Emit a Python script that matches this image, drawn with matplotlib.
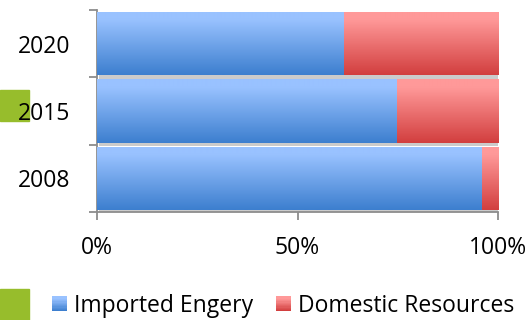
import matplotlib
matplotlib.use("Agg")
import matplotlib.pyplot as plt
import matplotlib.patheffects as pe
import numpy as np
from matplotlib.colors import LinearSegmentedColormap
from matplotlib.legend_handler import HandlerBase
from matplotlib.patches import Rectangle

years = ["2008", "2015", "2020"]
imported = [96.0, 74.8, 61.5]
domestic = [4.0, 25.2, 38.5]
series_names = ["Imported Engery", "Domestic Resources"]
x_ticks = [0, 50, 100]
x_labels = ["0%", "50%", "100%"]

# top colour -> bottom colour of each gradient
blue = ("#99c2ff", "#3d7fcf")
red = ("#ff9999", "#d23f3f")

plt.rcParams["font.family"] = ["Open Sans", "DejaVu Sans"]
FS = 16.5

fig = plt.figure(figsize=(5.26, 3.2), dpi=100)
ax = fig.add_axes([97 / 526, 1 - 212 / 320, 401 / 526, 202 / 320])

# slide decoration squares
for y0 in (90, 289):
    fig.add_artist(Rectangle((0, 1 - (y0 + 31) / 320), 29 / 526, 31 / 320,
                             transform=fig.transFigure, color="#97bd2c",
                             zorder=-1))


def make_cmap(colors):
    return LinearSegmentedColormap.from_list(
        "g", [(0, colors[0]), (0.12, colors[0]), (1, colors[1])])


def gradient(ax, bars, colors):
    cmap = make_cmap(colors)
    grad = np.linspace(0, 1, 64).reshape(-1, 1)
    for b in bars:
        x, y, w, h = b.get_x(), b.get_y(), b.get_width(), b.get_height()
        im = ax.imshow(grad, cmap=cmap, aspect="auto", zorder=3,
                       extent=(x, x + w, y, y + h), origin="upper",
                       interpolation="bilinear")
        im.set_clip_path(b)


y = np.arange(len(years))
shadow = [pe.SimplePatchShadow(offset=(1.2, -2.5), shadow_rgbFace="#999999",
                               alpha=0.5), pe.Normal()]
b1 = ax.barh(y, imported, height=0.94, color=blue[1], linewidth=0, zorder=2)
b2 = ax.barh(y, domestic, left=imported, height=0.94, color=red[1],
             linewidth=0, zorder=2)
for b in list(b1) + list(b2):
    b.set_path_effects(shadow)
gradient(ax, b1, blue)
gradient(ax, b2, red)

ax.set_xlim(0, 100)
ax.set_ylim(-0.5, len(years) - 0.5)
for s in ("top", "right"):
    ax.spines[s].set_visible(False)
for s in ("left", "bottom"):
    ax.spines[s].set_color("#8c8c8c")
    ax.spines[s].set_linewidth(1.3)

ax.set_xticks(x_ticks)
ax.set_xticklabels(x_labels, fontsize=FS)
ax.tick_params(axis="x", length=6, width=1.3, color="#8c8c8c", pad=11)

ax.set_yticks(np.arange(len(years) + 1) - 0.5)
ax.set_yticklabels([])
ax.set_yticks(y, minor=True)
ax.set_yticklabels(years, minor=True, fontsize=FS)
ax.tick_params(axis="y", which="major", length=6, width=1.3, color="#8c8c8c")
ax.tick_params(axis="y", which="minor", length=0, pad=19)


class GradHandler(HandlerBase):
    def __init__(self, colors):
        super().__init__()
        self.colors = colors

    def create_artists(self, legend, orig, xd, yd, width, height, fontsize, trans):
        cmap = make_cmap(self.colors)
        size = 15 * 0.72
        n = 12
        arts = []
        for i in range(n):
            r = Rectangle((xd + width - size, yd + height / 2 + size / 2 - (i + 1) * size / n),
                          size, size / n, color=cmap(i / (n - 1)), lw=0,
                          transform=trans)
            arts.append(r)
        return arts


h1 = Rectangle((0, 0), 1, 1)
h2 = Rectangle((0, 0), 1, 1)
fig.legend([h1, h2], series_names, loc="center", ncol=2,
           bbox_to_anchor=(282 / 526, 1 - 306 / 320), frameon=False,
           fontsize=FS, handlelength=0.75, handletextpad=0.3, columnspacing=0.9,
           borderaxespad=0, borderpad=0,
           handler_map={h1: GradHandler(blue), h2: GradHandler(red)})

fig.savefig("out.png", dpi=100)
